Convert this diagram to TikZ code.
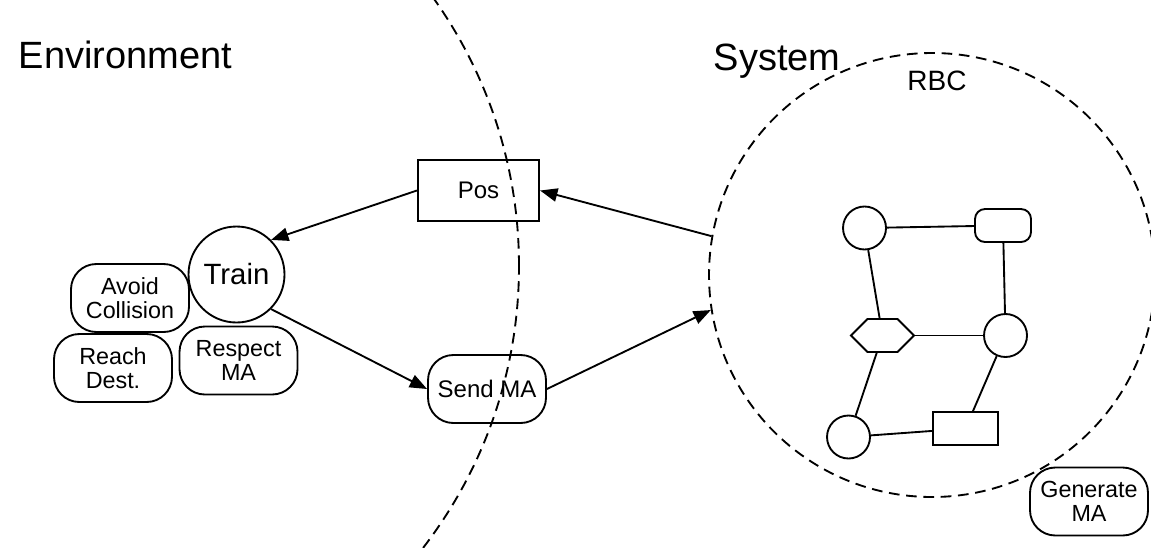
\documentclass[tikz,border=0pt]{standalone}
\usepackage{fontspec}
\setmainfont{Liberation Sans}
\usetikzlibrary{arrows.meta,positioning,shapes.geometric,shapes.symbols}
\tikzset{
  goal/.style={draw, rounded corners=19pt, align=center, minimum width=88.5pt,
               minimum height=51pt, inner sep=1pt, font=\fontsize{17.5}{17.5}\selectfont},
  msg/.style={draw, align=center, minimum width=91pt, minimum height=46pt,
              inner sep=1pt, font=\fontsize{18}{18}\selectfont},
  dot/.style={draw, circle, minimum size=32.25pt, inner sep=0pt},
  flow/.style={-{Triangle[length=13pt, width=10pt]}},
  bound/.style={dash pattern=on 8pt off 5pt},
  title/.style={anchor=base west, inner sep=0pt, font=\fontsize{28.5}{30}\selectfont},
}

\begin{document}
\begin{tikzpicture}[x=0.75pt, y=0.75pt, line width=1.4pt]
  \useasboundingbox (0,0) rectangle (1151,-547);
  \draw[bound] (57,-266) circle[radius=462];
  \node[title] (env) at (18,-68) {Environment};
  \node[title] (sys) at (713,-70) {System};

  \node[draw, ellipse, bound, minimum width=334.5pt, minimum height=333pt] (rbc) at (932,-275) {};
  \node[anchor=base, inner sep=0pt, font=\fontsize{21}{21}\selectfont] (rbclabel) at (937,-90) {RBC};

  \node[draw, circle, minimum size=72pt, inner sep=0pt, font=\fontsize{22}{22}\selectfont] (train) at (236.5,-274.5) {Train};
  \node[goal] (avoid) at (130,-298) {Avoid\\Collision};
  \node[goal] (reach) at (113,-368) {Reach\\Dest.};
  \node[goal] (respect) at (238.5,-360.5) {Respect\\MA};
  \node[goal] (generate) at (1089,-501.5) {Generate\\MA};

  \node[msg] (pos) at (478.5,-190.5) {Pos};
  \node[goal, font=\fontsize{18}{18}\selectfont] (send) at (487,-389) {Send MA};

  \node[dot] (a) at (864.5,-228) {};
  \node[draw, rounded corners=7.5pt, minimum width=42pt, minimum height=24.75pt] (b) at (1003,-225.5) {};
  \node[draw, signal, signal to=east and west, signal pointer angle=90,
        minimum width=47.25pt, minimum height=24.75pt, inner sep=0pt] (c) at (882.5,-335.5) {};
  \node[dot] (d) at (1005.5,-335.5) {};
  \node[dot] (e) at (848.5,-437) {};
  \node[draw, minimum width=48.75pt, minimum height=24.75pt] (f) at (965.5,-428.5) {};

  \draw (a) -- (b);
  \draw (a) -- (c);
  \draw (b) -- (d);
  \draw (c) -- (d);
  \draw (c) -- (e);
  \draw (d) -- (f);
  \draw (e) -- (f);

  \draw[flow] (pos.west) -- (train.45);
  \draw[flow] (train.-45) -- (send.west);
  \draw[flow] (send.east) -- (rbc.189.6);
  \draw[flow] (rbc.170.9) -- (pos.east);
\end{tikzpicture}
\end{document}
